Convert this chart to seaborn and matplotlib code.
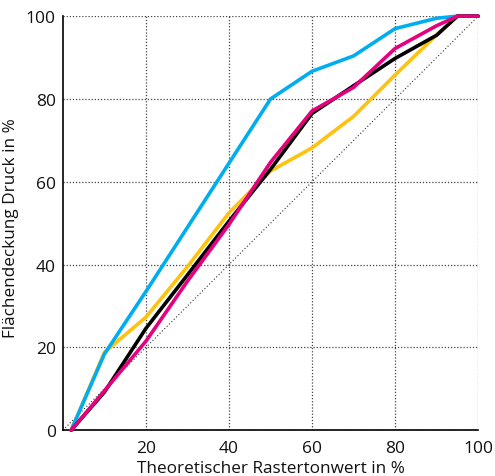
import pandas as pd
import matplotlib
matplotlib.use("Agg")
import matplotlib.pyplot as plt
import seaborn as sns

sns.set_theme(style="white")
plt.rcParams["font.family"] = ["Open Sans", "DejaVu Sans"]

# -----------------------------
# DATA
# -----------------------------
raster = [2, 10, 20, 30, 40, 50, 60, 70, 80, 90, 95, 100]
cyan = [0, 18.4, 33.5, 49.0, 64.5, 80.0, 86.7, 90.4, 97.0, 99.5, 100, 100]
yellow = [0, 18.8, 27.3, 39.5, 52.5, 62.6, 68.2, 75.8, 85.8, 95.5, 100, 100]
black = [0, 9.2, 24.6, 37.5, 50.5, 63.0, 76.5, 83.2, 89.8, 95.4, 100, 100]
magenta = [0, 9.5, 21.5, 36.0, 49.7, 64.7, 77.1, 82.8, 92.2, 97.7, 100, 100]

diag = [0, 100]

x_ticks = [20, 40, 60, 80, 100]
y_ticks = [0, 20, 40, 60, 80, 100]

# -----------------------------
# LONG FORMAT
# -----------------------------
df = pd.concat([
    pd.DataFrame({"raster": raster, "druck": yellow, "farbe": "Gelb"}),
    pd.DataFrame({"raster": raster, "druck": cyan, "farbe": "Cyan"}),
    pd.DataFrame({"raster": raster, "druck": black, "farbe": "Schwarz"}),
    pd.DataFrame({"raster": raster, "druck": magenta, "farbe": "Magenta"}),
], ignore_index=True)

palette = {
    "Gelb": "#FFC20E",
    "Cyan": "#00AEEF",
    "Schwarz": "#000000",
    "Magenta": "#E6007E",
}

# -----------------------------
# FIGURE
# -----------------------------
fig = plt.figure(figsize=(4.95, 4.77), dpi=100)
ax = fig.add_axes([0.127, 0.096, 0.839, 0.868])

ax.plot(diag, diag, color="#333333", lw=0.8, ls=(0, (1, 2)), zorder=1)

sns.lineplot(data=df, x="raster", y="druck", hue="farbe", palette=palette,
             linewidth=2.6, legend=False, sort=False, estimator=None, ax=ax,
             zorder=3)
for line in ax.lines:
    line.set_clip_on(False)
    line.set_solid_joinstyle("miter")

ax.set_xlim(0, 100)
ax.set_ylim(0, 100)
ax.set_xticks(x_ticks)
ax.set_yticks(y_ticks)

ax.grid(True, color="#444444", ls=(0, (1, 1.5)), lw=0.9)
ax.set_axisbelow(True)

for side in ["top", "right"]:
    ax.spines[side].set_visible(False)
for side in ["left", "bottom"]:
    ax.spines[side].set_color("black")
    ax.spines[side].set_linewidth(1.2)

ax.tick_params(axis="both", direction="in", length=6, width=1,
               color="black", labelsize=12.5, pad=5, labelcolor="#111111")
ax.tick_params(axis="x", length=0, pad=7)

ax.set_xlabel("Theoretischer Rastertonwert in %", fontsize=12.3, labelpad=3,
              color="#111111")
ax.set_ylabel("Flächendeckung Druck in %", fontsize=12.3, color="#111111")
ax.yaxis.set_label_coords(-0.105, 0.49)

fig.savefig("out.png", dpi=100)
plt.close(fig)
